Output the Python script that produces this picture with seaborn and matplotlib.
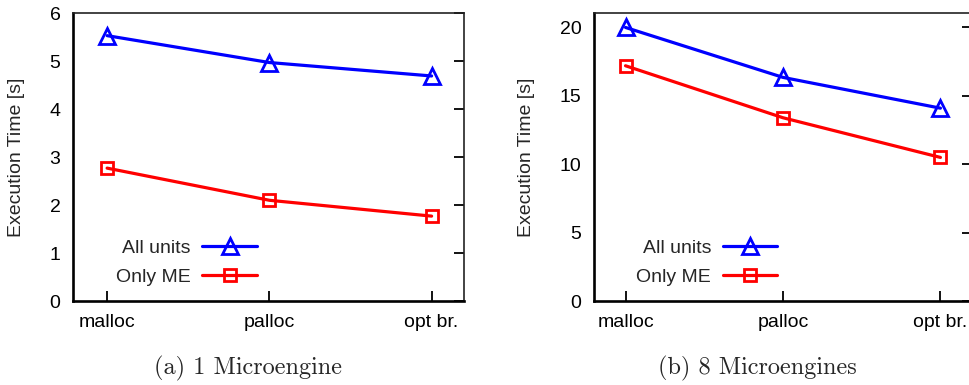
import matplotlib
matplotlib.use("Agg")
import matplotlib.pyplot as plt
import seaborn as sns
import pandas as pd

categories = ["malloc", "palloc", "opt br."]
series_names = ["All units", "Only ME"]
one_me_all = [5.53, 4.97, 4.69]
one_me_only = [2.77, 2.10, 1.77]
eight_me_all = [20.0, 16.35, 14.1]
eight_me_only = [17.2, 13.4, 10.5]
captions = ["(a) 1 Microengine", "(b) 8 Microengines"]
ylabel = "Execution Time [s]"

sns.set_theme(style="white")
plt.rcParams["font.family"] = ["Liberation Sans", "DejaVu Sans"]

FS = 14
colors = ["#0000ff", "#ff0000"]
markers = ["^", "s"]
msizes = [11.5, 8.5]

fig = plt.figure(figsize=(9.7, 3.85), dpi=100)
ax1 = fig.add_axes([0.0753, 0.218, 0.4031, 0.748])
ax2 = fig.add_axes([0.6124, 0.218, 0.3896, 0.748])

panels = [
    (ax1, [one_me_all, one_me_only], (0, 6), [0, 1, 2, 3, 4, 5, 6], (-0.21, 2.2), -0.123, 0.47),
    (ax2, [eight_me_all, eight_me_only], (0, 21.05), [0, 5, 10, 15, 20], (-0.2, 2.2), -0.156, 0.485),
]

for ax, data, ylim, yticks, xlim, ylab_x, leg_x in panels:
    for i, (name, vals) in enumerate(zip(series_names, data)):
        df = pd.DataFrame({"cat": categories, "val": vals})
        sns.lineplot(data=df, x="cat", y="val", ax=ax, color=colors[i],
                     marker=markers[i], markersize=msizes[i],
                     markerfacecolor="none", markeredgecolor=colors[i],
                     markeredgewidth=2.0, linewidth=2.3, label=name,
                     legend=False, sort=False)
    ax.set_xlim(*xlim)
    ax.set_ylim(*ylim)
    ax.set_yticks(yticks)
    ax.set_xlabel("")
    ax.set_ylabel(ylabel, fontsize=FS)
    ax.yaxis.set_label_coords(ylab_x, 0.5)
    ax.tick_params(axis="y", which="both", left=False, right=True, direction="in",
                   length=7, width=1.3, labelsize=FS, pad=9, colors="black")
    ax.tick_params(axis="x", which="both", bottom=True, top=False, direction="in",
                   length=7, width=1.3, labelsize=FS, pad=9, colors="black")
    for s in ["left", "bottom"]:
        ax.spines[s].set_linewidth(1.9)
        ax.spines[s].set_color("black")
    for s in ["top", "right"]:
        ax.spines[s].set_linewidth(1.2)
        ax.spines[s].set_color("#222222")
    ax.set_facecolor("white")

    lines = ax.get_lines()
    ys = [0.184, 0.083]
    for j, (ln, name) in enumerate(zip(lines, series_names)):
        leg = ax.legend([ln], [name], loc="center right", bbox_to_anchor=(leg_x, ys[j]),
                        bbox_transform=ax.transAxes, frameon=False, borderpad=0,
                        borderaxespad=0, handlelength=2.8, handletextpad=0.6,
                        fontsize=FS, markerfirst=False, numpoints=1)
        if j == 0:
            ax.add_artist(leg)

fig.text(0.256, 0.044, captions[0], ha="center", va="center", fontsize=17.5,
         family=["cmr10", "DejaVu Serif"])
fig.text(0.781, 0.044, captions[1], ha="center", va="center", fontsize=17.5,
         family=["cmr10", "DejaVu Serif"])

fig.savefig("out.png", dpi=100, facecolor="white")
